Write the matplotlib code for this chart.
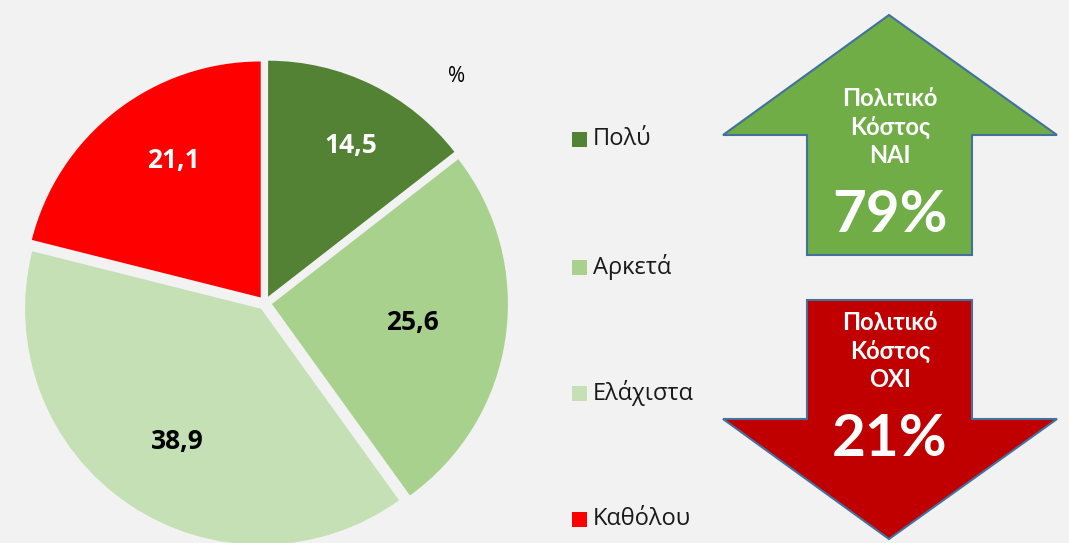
import matplotlib
matplotlib.use("Agg")
import numpy as np
import matplotlib.pyplot as plt
from matplotlib.patches import Polygon, Rectangle

# Δεδομένα (%)
categories = ["Πολύ", "Αρκετά", "Ελάχιστα", "Καθόλου"]
values = [14.5, 25.6, 38.9, 21.1]
value_labels = ["14,5", "25,6", "38,9", "21,1"]
colors = ["#548235", "#a9d18e", "#c5e0b4", "#ff0000"]
label_colors = ["white", "black", "black", "white"]

yes_label = "Πολιτικό\nΚόστος\nΝΑΙ"
no_label = "Πολιτικό\nΚόστος\nΟΧΙ"
yes_pct = "79%"
no_pct = "21%"

W, H = 1069, 543
BG = "#f2f2f2"

fig = plt.figure(figsize=(W / 100, H / 100), dpi=100, facecolor=BG)
ax = fig.add_axes([0, 0, 1, 1])
ax.set_facecolor(BG)

# pie (y in pixel coordinates from the top -> H - y); explode is in data units here
wedges, _ = ax.pie(values, colors=colors, startangle=90, counterclock=False,
                   center=(265, H - 303), radius=236,
                   explode=[7] * len(values),
                   wedgeprops=dict(linewidth=0))

# label placement: fraction of radius, angle tweak (deg) from the wedge middle
label_dist = [0.73, 0.60, 0.665, 0.69]
label_rot = [-2.8, 0.6, 1.7, -5.4]
for w, txt, c, d, r in zip(wedges, value_labels, label_colors, label_dist, label_rot):
    ang = np.deg2rad((w.theta1 + w.theta2) / 2 + r)
    x = w.center[0] + d * w.r * np.cos(ang)
    y = w.center[1] + d * w.r * np.sin(ang)
    ax.text(x, y, txt, color=c, fontsize=19, fontweight="bold",
            family="Open Sans", ha="center", va="center")

ax.text(457, H - 77, "%", fontsize=15, family="Open Sans", ha="center", va="center")

# legend
leg_y = [139, 267, 393, 519]
for cat, col, ly in zip(categories, colors, leg_y):
    ax.add_patch(Rectangle((572, H - ly - 7.5), 15, 15, color=col, lw=0))
    ax.text(593, H - ly, cat, fontsize=17, family="Open Sans",
            ha="left", va="center", color="#1a1a1a")

# arrows
edge = "#41719c"
up = [(889, 15), (1057, 135), (972, 135), (972, 255), (807, 255),
      (807, 135), (723, 135)]
down = [(807, 300), (972, 300), (972, 419), (1057, 419), (889, 539),
        (723, 419), (807, 419)]
ax.add_patch(Polygon([(x, H - y) for x, y in up], closed=True,
                     facecolor="#70ad47", edgecolor=edge, lw=1.5))
ax.add_patch(Polygon([(x, H - y) for x, y in down], closed=True,
                     facecolor="#c00000", edgecolor=edge, lw=1.5))

ax.text(890, H - 127, yes_label, color="white", fontsize=17, fontweight="bold",
        family="Lato", ha="center", va="center", linespacing=1.3)
ax.text(890, H - 215, yes_pct, color="white", fontsize=42, fontweight="bold",
        family="Lato", ha="center", va="center")
ax.text(890, H - 351, no_label, color="white", fontsize=17, fontweight="bold",
        family="Lato", ha="center", va="center", linespacing=1.3)
ax.text(890, H - 440, no_pct, color="white", fontsize=42, fontweight="bold",
        family="Lato", ha="center", va="center")

ax.set_xlim(0, W)
ax.set_ylim(0, H)
ax.set_aspect("equal")
ax.axis("off")

fig.savefig("out.png", dpi=100, facecolor=BG)
